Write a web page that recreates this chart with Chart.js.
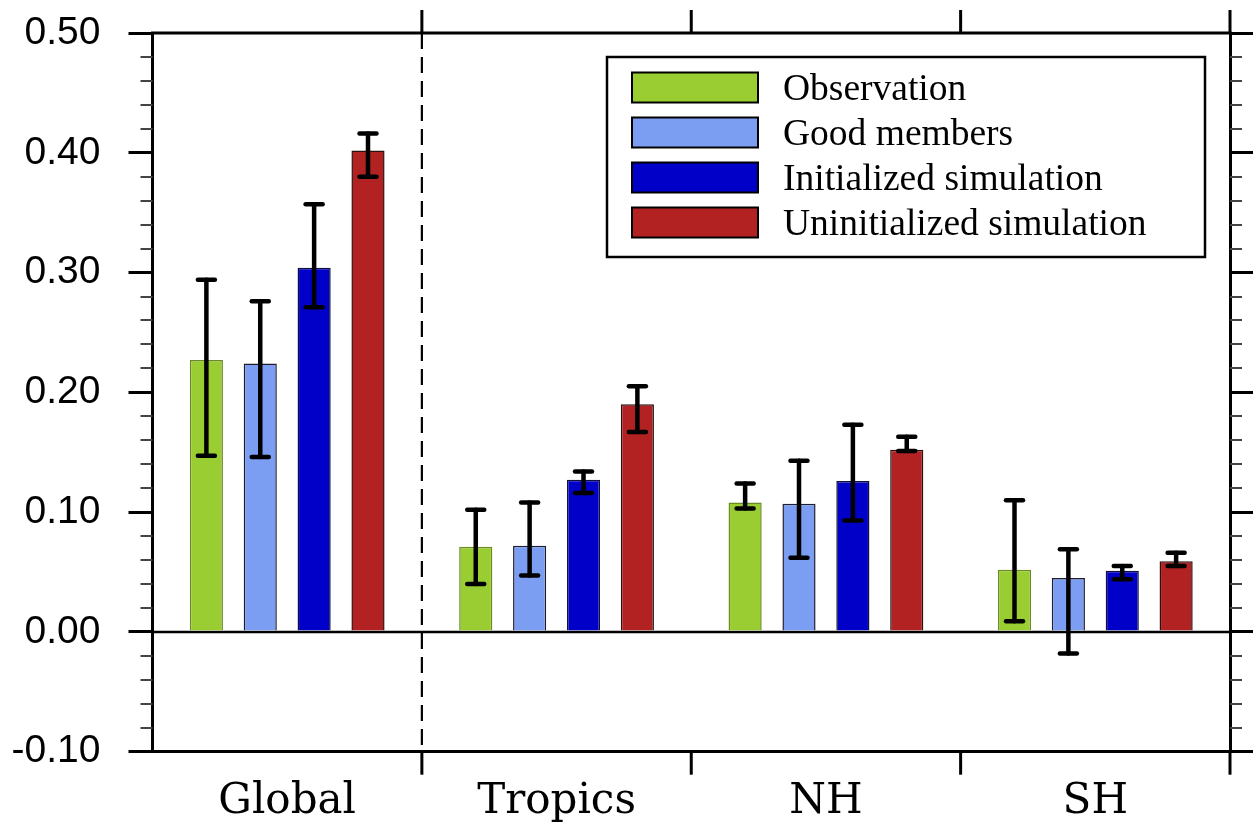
<!DOCTYPE html>
<html><head><meta charset="utf-8">
<script src="https://cdn.jsdelivr.net/npm/chart.js@4.4.1/dist/chart.umd.min.js"></script>
<style>html,body{margin:0;padding:0;background:#fff;} #wrap{width:1254px;height:825px;}</style>
</head><body><div id="wrap"><canvas id="c" width="1254" height="825"></canvas></div>
<script>
const categories = ['Global', 'Tropics', 'NH', 'SH'];
const seriesNames = ['Observation', 'Good members', 'Initialized simulation', 'Uninitialized simulation'];
const observation      = [0.227, 0.071, 0.108, 0.052];
const observationLow   = [0.147, 0.040, 0.103, 0.009];
const observationHigh  = [0.294, 0.102, 0.124, 0.110];
const goodMembers      = [0.224, 0.072, 0.107, 0.045];
const goodMembersLow   = [0.146, 0.047, 0.062, -0.018];
const goodMembersHigh  = [0.276, 0.108, 0.143, 0.069];
const initialized      = [0.304, 0.127, 0.126, 0.051];
const initializedLow   = [0.271, 0.116, 0.093, 0.044];
const initializedHigh  = [0.357, 0.134, 0.173, 0.055];
const uninitialized    = [0.402, 0.190, 0.152, 0.059];
const uninitializedLow = [0.380, 0.167, 0.151, 0.055];
const uninitializedHigh= [0.416, 0.205, 0.163, 0.066];
const yTicks = [-0.10, 0.00, 0.10, 0.20, 0.30, 0.40, 0.50];
const yMinorTicks = [-0.08,-0.06,-0.04,-0.02,0.02,0.04,0.06,0.08,0.12,0.14,0.16,0.18,0.22,0.24,0.26,0.28,0.32,0.34,0.36,0.38,0.42,0.44,0.46,0.48];

const fills = ['#9acd32', '#7b9ef2', '#0000c8', '#b22222'];
const borders = ['#6a8a22', '#1e1e30', '#10103a', '#2a1010'];
const values = [observation, goodMembers, initialized, uninitialized];
const lows = [observationLow, goodMembersLow, initializedLow, uninitializedLow];
const highs = [observationHigh, goodMembersHigh, initializedHigh, uninitializedHigh];

function seg(ctx, x1, y1, x2, y2) { ctx.beginPath(); ctx.moveTo(x1, y1); ctx.lineTo(x2, y2); ctx.stroke(); }

const decor = {
  id: 'decor',
  beforeDatasetsDraw(chart) {
    const { ctx, chartArea: a, scales: { x, y } } = chart;
    ctx.save();
    ctx.strokeStyle = '#000';
    ctx.lineWidth = 2.5;
    const y0 = y.getPixelForValue(0);
    seg(ctx, a.left, y0, a.right, y0);
    ctx.strokeStyle = '#444'; ctx.lineWidth = 2;
    yMinorTicks.forEach(v => {
      const py = Math.round(y.getPixelForValue(v));
      seg(ctx, a.left - 12, py, a.left, py);
      seg(ctx, a.right, py, a.right + 12, py);
    });
    ctx.strokeStyle = '#000';
    const w = x.getPixelForValue(1) - x.getPixelForValue(0);
    const bx = [];
    for (let i = 1; i < categories.length; i++) bx.push(x.getPixelForValue(i) - w / 2);
    bx.push(a.right);
    ctx.lineWidth = 3;
    bx.forEach(px => {
      seg(ctx, px, a.top, px, a.top - 23);
      seg(ctx, px, a.bottom, px, a.bottom + 23);
    });
    ctx.lineWidth = 2.2;
    ctx.setLineDash([16, 8]);
    seg(ctx, bx[0], a.top, bx[0], a.bottom);
    ctx.setLineDash([]);
    ctx.lineWidth = 3;
    seg(ctx, a.left - 1.5, a.top, a.right + 1.5, a.top);
    ctx.restore();
  },
  afterDatasetsDraw(chart) {
    const { ctx, scales: { y } } = chart;
    ctx.save();
    ctx.strokeStyle = '#000';
    ctx.lineWidth = 4.5;
    ctx.lineCap = 'round';
    chart.data.datasets.forEach((ds, di) => {
      const meta = chart.getDatasetMeta(di);
      meta.data.forEach((bar, i) => {
        const yl = y.getPixelForValue(lows[di][i]);
        const yh = y.getPixelForValue(highs[di][i]);
        seg(ctx, bar.x, yl, bar.x, yh);
        seg(ctx, bar.x - 8.5, yl, bar.x + 8.5, yl);
        seg(ctx, bar.x - 8.5, yh, bar.x + 8.5, yh);
      });
    });
    ctx.restore();
  },
  afterDraw(chart) {
    const { ctx } = chart;
    ctx.save();
    ctx.fillStyle = '#fff';
    ctx.fillRect(607, 57, 598, 200);
    ctx.strokeStyle = '#000'; ctx.lineWidth = 2.5;
    ctx.strokeRect(607, 57, 598, 200);
    ctx.font = '37.5px "Liberation Serif"';
    ctx.textBaseline = 'alphabetic';
    ctx.textAlign = 'left';
    chart.data.datasets.forEach((ds, i) => {
      const cy = 87.5 + i * 45;
      ctx.fillStyle = ds.backgroundColor;
      ctx.fillRect(632, cy - 15, 126, 30);
      ctx.lineWidth = 2; ctx.strokeStyle = '#000';
      ctx.strokeRect(632, cy - 15, 126, 30);
      ctx.fillStyle = '#000';
      ctx.fillText(ds.label, 783, cy + 12);
    });
    ctx.restore();
  }
};

function noPad(s) { s.paddingTop = 0; s.paddingBottom = 0; }

new Chart(document.getElementById('c'), {
  type: 'bar',
  data: {
    labels: categories,
    datasets: seriesNames.map((n, i) => ({
      label: n,
      data: values[i],
      backgroundColor: fills[i],
      borderColor: borders[i],
      borderWidth: 1.5,
      borderSkipped: 'bottom',
      categoryPercentage: 0.8,
      barPercentage: 0.615,
      yAxisID: 'y'
    }))
  },
  options: {
    responsive: false,
    animation: false,
    devicePixelRatio: 1,
    layout: { padding: { top: 33, left: 0, right: 0, bottom: 0 } },
    plugins: { legend: { display: false }, tooltip: { enabled: false } },
    scales: {
      x: {
        offset: true,
        grid: { display: false, drawTicks: false },
        border: { display: true, color: '#000', width: 3 },
        ticks: { color: '#000', font: { family: 'DejaVu Serif', size: 42 }, padding: 25, maxRotation: 0 },
        afterFit(s) { s.height = 73.3; s.paddingLeft = 0; s.paddingRight = 0; }
      },
      y: {
        position: 'left',
        min: -0.1, max: 0.5,
        afterBuildTicks(s) { s.ticks = yTicks.map(v => ({ value: v })); },
        grid: { drawOnChartArea: false, drawTicks: true, tickLength: 24, color: '#000', lineWidth: 3 },
        border: { display: true, color: '#000', width: 3 },
        ticks: { color: '#000', font: { family: 'Liberation Sans', size: 39 }, padding: 28,
                 callback: v => v.toFixed(2) },
        afterFit(s) { s.width = 152.5; noPad(s); }
      },
      y2: {
        position: 'right',
        min: -0.1, max: 0.5,
        afterBuildTicks(s) { s.ticks = yTicks.map(v => ({ value: v })); },
        grid: { drawOnChartArea: false, drawTicks: true, tickLength: 23, color: '#000', lineWidth: 3 },
        border: { display: true, color: '#000', width: 3 },
        ticks: { display: false },
        afterFit(s) { s.width = 24; noPad(s); }
      }
    }
  },
  plugins: [decor]
});
</script>
</body></html>
